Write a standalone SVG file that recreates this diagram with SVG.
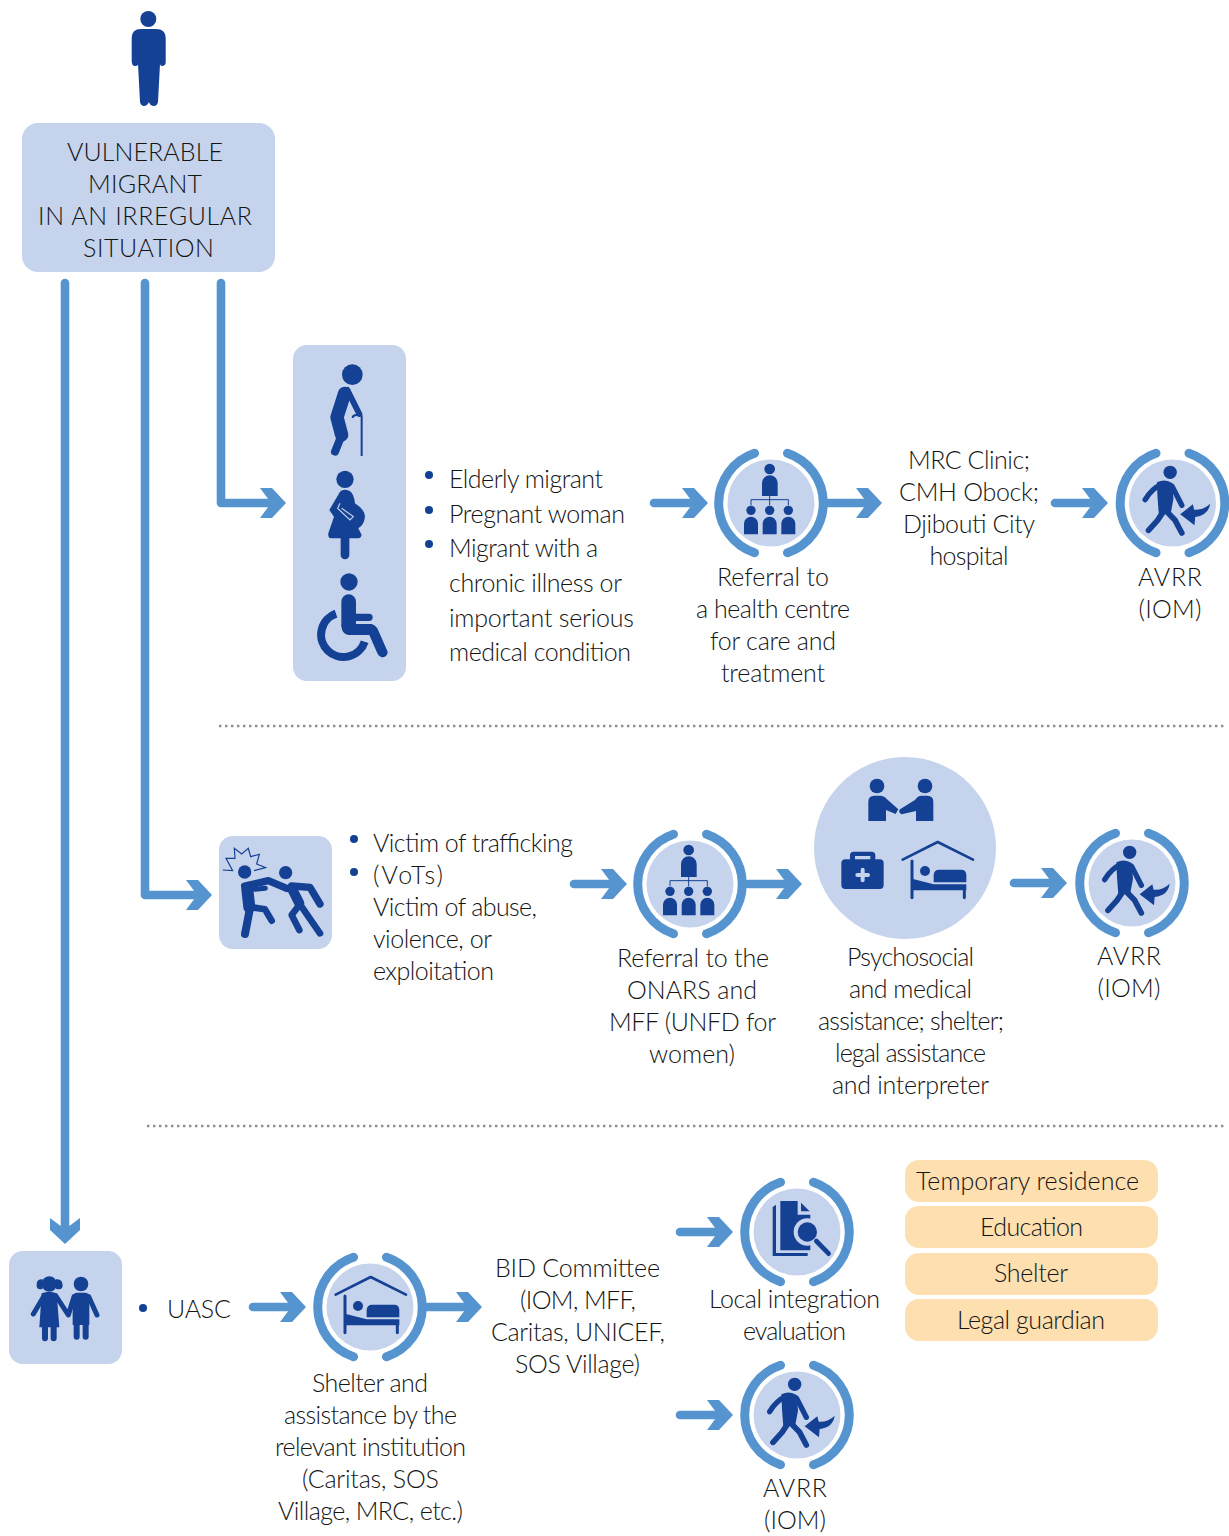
<svg xmlns="http://www.w3.org/2000/svg" width="1229" height="1536" viewBox="0 0 1229 1536">
<style>
text{font-family:"Lato","Open Sans","Liberation Sans",sans-serif;font-weight:300;font-size:25px;fill:#141414}
.m{text-anchor:middle}
.light{fill:#c5d3ec}
.org{fill:#fddfb0}
.d{fill:#154194}
.ds{fill:none;stroke:#154194;stroke-linecap:round;stroke-linejoin:round}
.a{fill:none;stroke:#5694d0;stroke-width:8.600;stroke-linecap:round;stroke-linejoin:round}
.ah{fill:#5694d0}
.dot{fill:none;stroke:#8d8d8d;stroke-width:2.400;stroke-dasharray:2.400 3.600}
.b{fill:#154194}
</style>
<defs>
<path id="ah" class="ah" d="M-26-15H-14L0 0-14 15H-26L-18 4.300V-4.300Z"/>
<g id="ring">
<circle r="43.500" class="light"/>
<path d="M-16.500-49.700A52.400 52.400 0 0 0-16.500 49.700M16.500-49.700A52.400 52.400 0 0 1 16.500 49.700" fill="none" stroke="#5694d0" stroke-width="9" stroke-linecap="round"/>
</g>
<g id="i-walk" transform="scale(.3333) translate(-397,-188)">
<circle cx="390" cy="96" r="20" class="d"/>
<path class="ds" stroke-width="16" d="M362 133Q335 145 315 178M396 138L425 195"/>
<path class="d" d="M350 126Q375 114 396 128L400 175L392 218L356 224L352 170Z"/>
<path class="ds" stroke-width="17" d="M372 210L352 240L325 270M378 212L405 240L425 278"/>
<path class="d" d="M420 222L458 192L462 208Q490 210 510 190Q505 225 465 230L463 255Z"/>
</g>
<g id="i-org" transform="scale(.3333) translate(-213,-188)">
<circle cx="209" cy="86" r="16" class="d"/>
<path class="d" d="M186 167V128A23 23 0 0 1 233 128V167Z"/>
<path d="M209 167V195M153 195V178H265V195" fill="none" stroke="#154194" stroke-width="3"/>
<circle cx="153" cy="210" r="14" class="d"/><path class="d" d="M132 282V250A21 21 0 0 1 174 250V282Z"/>
<circle cx="209" cy="210" r="14" class="d"/><path class="d" d="M188 282V250A21 21 0 0 1 230 250V282Z"/>
<circle cx="265" cy="210" r="14" class="d"/><path class="d" d="M244 282V250A21 21 0 0 1 286 250V282Z"/>
</g>
<g id="i-bed" transform="scale(.3333) translate(-210,-185)">
<path class="ds" stroke-width="8" d="M107 148L212 95L318 148"/>
<path class="ds" stroke-width="9" d="M135 152V262M292 236V262"/>
<circle cx="174" cy="182" r="15" class="d"/>
<path class="d" d="M200 216V195Q200 178 217 178H283Q298 178 298 195V216Z"/>
<path class="d" d="M135 205L200 222H298V240H135Z"/>
</g>
<g id="i-doc" transform="scale(.3333) translate(-380,-185)">
<path class="d" d="M317 103L307 110V257H412V248H317Z"/>
<path class="d" d="M330 92H382V133H420V240H330Z"/>
<path class="d" d="M392 97L418 123H392Z"/>
<circle cx="411" cy="185" r="41" class="light"/>
<circle cx="411" cy="185" r="29" class="d"/>
<path class="ds" stroke-width="14" d="M438 212L475 250"/>
</g>
</defs>

<g id="connectors">
<path class="a" d="M65 283V1230"/><use href="#ah" transform="translate(65,1244) rotate(90)"/>
<path class="a" d="M145 283V895H200"/><use href="#ah" x="212" y="895"/>
<path class="a" d="M221 283V503H275"/><use href="#ah" x="286" y="503"/>
<path class="a" d="M654 503H695"/><use href="#ah" x="708" y="503"/>
<path class="a" d="M829 503H870"/><use href="#ah" x="882" y="503"/>
<path class="a" d="M1055 503H1095"/><use href="#ah" x="1108" y="503"/>
<path class="a" d="M574 884H615"/><use href="#ah" x="627" y="884"/>
<path class="a" d="M748 884H790"/><use href="#ah" x="802" y="884"/>
<path class="a" d="M1014 883H1055"/><use href="#ah" x="1067" y="883"/>
<path class="a" d="M253 1307H294"/><use href="#ah" x="306" y="1307"/>
<path class="a" d="M427 1307H470"/><use href="#ah" x="482" y="1307"/>
<path class="a" d="M680 1232H721"/><use href="#ah" x="733" y="1232"/>
<path class="a" d="M680 1415H721"/><use href="#ah" x="733" y="1415"/>
<path class="dot" d="M219 726H1224M147 1126H1224"/>
</g>

<g id="person">
<circle cx="148.300" cy="19" r="8" class="d"/>
<path class="d" d="M131.700 61V38Q131.700 29 141 29H156Q165.700 29 165.700 38V62Q165.700 66 162 66Q160 66 160 64L158 102Q157 106 154 106Q150 106 149 102Q147 106 144 106Q141 106 140 102L138 64Q138 66 135 66Q131.700 66 131.700 61Z"/>
</g>

<g id="vulnerable-migrant">
<rect x="22" y="123" width="253" height="149" rx="16" class="light"/>
<text class="m" x="145" y="161" textLength="156">VULNERABLE</text>
<text class="m" x="145" y="193" textLength="114">MIGRANT</text>
<text class="m" x="145" y="225" textLength="214">IN AN IRREGULAR</text>
<text class="m" x="148.500" y="257" textLength="131">SITUATION</text>
</g>

<g id="health-profiles">
<rect x="293" y="345" width="113" height="336" rx="14" class="light"/>
<g transform="translate(290,340) scale(.3333)">
<circle cx="187" cy="104" r="31" class="d"/>
<path class="ds" stroke-width="40" d="M164 160L141 232L155 285"/>
<path class="ds" stroke-width="24" d="M155 285L135 335"/>
<path class="ds" stroke-width="18" d="M172 150L208 222"/>
<path d="M215 226V348M215 226Q188 222 188 234" fill="none" stroke="#154194" stroke-width="6"/>
<circle cx="165" cy="418" r="26" class="d"/>
<path class="d" d="M150 455Q160 445 178 452Q192 460 195 490Q225 510 225 530Q222 555 205 565L215 585Q212 595 205 595H125Q113 595 115 580L132 530L118 510Z"/>
<path class="ds" stroke-width="26" d="M165 590V645"/>
<path d="M150 490L143 505L180 540L190 530L155 505" fill="none" stroke="#c5d3ec" stroke-width="3.500"/>
<circle cx="177" cy="726" r="26" class="d"/>
<path class="ds" stroke-width="44" d="M176 785V855"/>
<path class="ds" stroke-width="22" d="M190 832H237"/>
<path class="d" d="M155 852H245Q255 855 262 865L293 935Q293 948 280 952Q270 952 263 942L238 885H175Q155 880 155 860Z"/>
<path d="M138 821A67 67 0 1 0 224 905" fill="none" stroke="#154194" stroke-width="24"/>
</g>
</g>

<g id="health-criteria">
<circle cx="429" cy="475" r="4" class="b"/><circle cx="429" cy="510" r="4" class="b"/><circle cx="429" cy="544" r="4" class="b"/>
<text x="449" y="488" textLength="154">Elderly migrant</text>
<text x="449" y="523" textLength="176">Pregnant woman</text>
<text x="449" y="557" textLength="149">Migrant with a</text>
<text x="449" y="592" textLength="173">chronic illness or</text>
<text x="449" y="627" textLength="185">important serious</text>
<text x="449" y="661" textLength="182">medical condition</text>
</g>

<g id="health-referral">
<use href="#ring" x="771" y="503"/><use href="#i-org" x="771" y="503"/>
<text class="m" x="773" y="586" textLength="112">Referral to</text>
<text class="m" x="773" y="618" textLength="154">a health centre</text>
<text class="m" x="773" y="650" textLength="126">for care and</text>
<text class="m" x="773" y="682" textLength="104">treatment</text>
</g>

<g id="health-clinics">
<text class="m" x="969" y="469" textLength="122">MRC Clinic;</text>
<text class="m" x="969" y="501" textLength="140">CMH Obock;</text>
<text class="m" x="969" y="533" textLength="132">Djibouti City</text>
<text class="m" x="969" y="565" textLength="79">hospital</text>
</g>

<g id="avrr-1">
<use href="#ring" x="1172.500" y="503"/><use href="#i-walk" x="1172.500" y="503"/>
<text class="m" x="1170" y="586" textLength="64">AVRR</text>
<text class="m" x="1170" y="618" textLength="63">(IOM)</text>
</g>

<g id="abuse-profile">
<rect x="219" y="836" width="113" height="113" rx="14" class="light"/>
<g transform="translate(140,820) scale(.3333)">
<path d="M248 150L278 152L258 115L285 115L283 85L305 102L325 85L332 110L358 103L350 132L377 143L342 152" fill="none" stroke="#154194" stroke-width="3.500"/>
<circle cx="314" cy="156" r="20" class="d"/>
<circle cx="437" cy="158" r="20" class="d"/>
<path class="ds" stroke-width="22" d="M314 198L385 182L440 205"/>
<path class="ds" stroke-width="36" d="M322 208L328 262"/>
<path class="ds" stroke-width="15" d="M345 208L376 205"/>
<path class="ds" stroke-width="24" d="M330 265L315 342"/>
<path class="ds" stroke-width="20" d="M335 262L375 268L395 302"/>
<path class="ds" stroke-width="30" d="M455 204L478 250"/>
<path class="ds" stroke-width="20" d="M478 250L540 340M478 255L455 285L478 330"/>
<path class="ds" stroke-width="22" d="M455 198L510 202L540 252"/>
</g>
</g>

<g id="abuse-criteria">
<circle cx="354" cy="839" r="4" class="b"/><circle cx="354" cy="872" r="4" class="b"/>
<text x="373" y="852" textLength="200">Victim of trafficking</text>
<text x="373" y="884" textLength="70">(VoTs)</text>
<text x="373" y="916" textLength="164">Victim of abuse,</text>
<text x="373" y="948" textLength="119">violence, or</text>
<text x="373" y="980" textLength="121">exploitation</text>
</g>

<g id="abuse-referral">
<use href="#ring" x="690" y="884"/><use href="#i-org" x="690" y="884"/>
<text class="m" x="693" y="967" textLength="152">Referral to the</text>
<text class="m" x="692" y="999" textLength="130">ONARS and</text>
<text class="m" x="692.500" y="1031" textLength="167">MFF (UNFD for</text>
<text class="m" x="692" y="1063" textLength="86">women)</text>
</g>

<g id="abuse-assistance">
<circle cx="905" cy="848" r="91" class="light"/>
<g transform="translate(805,750) scale(.3333)">
<circle cx="216" cy="108" r="22" class="d"/>
<circle cx="360" cy="108" r="22" class="d"/>
<path class="d" d="M190 213V155Q190 137 208 137H226Q238 137 246 148L280 178L272 192L243 180V213Z"/>
<path class="d" d="M385 213V155Q385 137 367 137H350Q338 137 330 150L285 178Q278 188 290 193L333 183V213Z"/>
<path class="d" fill-rule="evenodd" d="M135 328V316Q135 305 146 305H200Q211 305 211 316V328H224Q236 328 236 340V405Q236 417 224 417H121Q109 417 109 405V340Q109 328 121 328ZM150 328H196V318H150Z"/>
<path d="M173 359V391M157 375H189" fill="none" stroke="#c5d3ec" stroke-width="12" stroke-linecap="round"/>
</g>
<use href="#i-bed" x="937" y="872"/>
<text class="m" x="910.500" y="966" textLength="127">Psychosocial</text>
<text class="m" x="910.500" y="998" textLength="123">and medical</text>
<text class="m" x="911" y="1030" textLength="186">assistance; shelter;</text>
<text class="m" x="910.500" y="1062" textLength="151">legal assistance</text>
<text class="m" x="910.500" y="1094" textLength="157">and interpreter</text>
</g>

<g id="avrr-2">
<use href="#ring" x="1132" y="883"/><use href="#i-walk" x="1132" y="883"/>
<text class="m" x="1129" y="965" textLength="64">AVRR</text>
<text class="m" x="1129" y="997" textLength="63">(IOM)</text>
</g>

<g id="uasc-profile">
<rect x="9" y="1251" width="113" height="113" rx="14" class="light"/>
<g transform="translate(0,1210) scale(.3333)">
<circle cx="148" cy="222" r="23" class="d"/>
<path class="d" d="M128 208Q108 205 110 228Q112 242 128 236ZM168 208Q188 205 188 228Q186 242 168 236Z"/>
<path class="d" d="M125 250Q148 240 170 250L178 352H118Z"/>
<path class="ds" stroke-width="15" d="M132 258L100 312M168 258L205 315L222 260"/>
<path class="ds" stroke-width="18" d="M135 350V385M161 350V385"/>
<circle cx="243" cy="222" r="22" class="d"/>
<path class="d" d="M218 260Q220 248 232 248H255Q266 248 268 260V345H218Z"/>
<path class="ds" stroke-width="15" d="M266 260L291 315"/>
<path class="ds" stroke-width="18" d="M230 340V380M257 340V380"/>
</g>
</g>

<g id="uasc-criteria">
<circle cx="143" cy="1308" r="4" class="b"/>
<text x="167" y="1318" textLength="64">UASC</text>
</g>

<g id="uasc-shelter">
<use href="#ring" x="370" y="1307"/><use href="#i-bed" x="370" y="1307"/>
<text class="m" x="370" y="1392" textLength="116">Shelter and</text>
<text class="m" x="370.500" y="1424" textLength="173">assistance by the</text>
<text class="m" x="370.500" y="1456" textLength="191">relevant institution</text>
<text class="m" x="370.500" y="1488" textLength="137">(Caritas, SOS</text>
<text class="m" x="370.500" y="1520" textLength="185">Village, MRC, etc.)</text>
</g>

<g id="bid-committee">
<text class="m" x="577.500" y="1277" textLength="165">BID Committee</text>
<text class="m" x="578" y="1309" textLength="116">(IOM, MFF,</text>
<text class="m" x="578" y="1341" textLength="174">Caritas, UNICEF,</text>
<text class="m" x="577.500" y="1373" textLength="125">SOS Village)</text>
</g>

<g id="local-integration">
<use href="#ring" x="797" y="1232"/><use href="#i-doc" x="797" y="1232"/>
<text class="m" x="794.500" y="1308" textLength="171">Local integration</text>
<text class="m" x="794.500" y="1340" textLength="103">evaluation</text>
</g>

<g id="avrr-3">
<use href="#ring" x="797" y="1415"/><use href="#i-walk" x="797" y="1415"/>
<text class="m" x="795" y="1497" textLength="64">AVRR</text>
<text class="m" x="795" y="1529" textLength="62">(IOM)</text>
</g>

<g id="temporary-residence">
<rect x="905" y="1160" width="253" height="42" rx="14" class="org"/>
<text x="916" y="1190" textLength="223">Temporary residence</text>
</g>
<g id="education">
<rect x="905" y="1206" width="253" height="42" rx="14" class="org"/>
<text class="m" x="1031.500" y="1236" textLength="103">Education</text>
</g>
<g id="shelter">
<rect x="905" y="1253" width="253" height="42" rx="14" class="org"/>
<text class="m" x="1031" y="1282" textLength="74">Shelter</text>
</g>
<g id="legal-guardian">
<rect x="905" y="1299" width="253" height="42" rx="14" class="org"/>
<text class="m" x="1031" y="1329" textLength="148">Legal guardian</text>
</g>
</svg>
